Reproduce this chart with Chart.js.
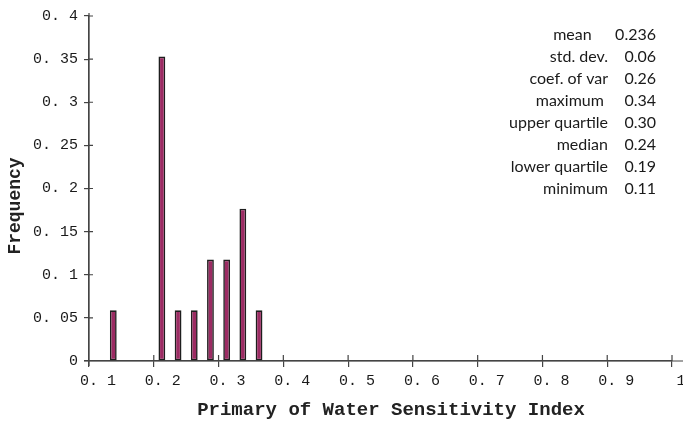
<!DOCTYPE html>
<html>
<head>
<meta charset="utf-8">
<script src="https://cdn.jsdelivr.net/npm/chart.js@4.4.1/dist/chart.umd.min.js"></script>
<style>
  html, body { margin: 0; padding: 0; background: #fff; }
  #wrap { width: 683px; height: 426px; position: relative; }
</style>
</head>
<body>
<div id="wrap"><canvas id="myChart" width="683" height="426"></canvas></div>
<script>
// histogram bins (centre of each 0.025 wide bin) and relative frequency
const binCenters = [0.1375, 0.2125, 0.2375, 0.2625, 0.2875, 0.3125, 0.3375, 0.3625];
const frequencies = [0.0588, 0.3529, 0.0588, 0.0588, 0.1176, 0.1176, 0.1765, 0.0588];

const xTicks = [0.1, 0.2, 0.3, 0.4, 0.5, 0.6, 0.7, 0.8, 0.9, 1];
const xTickLabels = ['0. 1', '0. 2', '0. 3', '0. 4', '0. 5', '0. 6', '0. 7', '0. 8', '0. 9', '1'];
const yTicks = [0, 0.05, 0.1, 0.15, 0.2, 0.25, 0.3, 0.35, 0.4];
const yTickLabels = ['0', '0. 05', '0. 1', '0. 15', '0. 2', '0. 25', '0. 3', '0. 35', '0. 4'];

const xTitle = 'Primary of Water Sensitivity Index';
const yTitle = 'Frequency';

// summary box in the top right (trailing spaces as in the original layout)
const statNames = ['mean    ', 'std. dev.', 'coef. of var', 'maximum ', 'upper quartile', 'median', 'lower quartile', 'minimum'];
const statValues = ['0.236', '0.06', '0.26', '0.34', '0.30', '0.24', '0.19', '0.11'];

const monoFont = "'Liberation Mono', 'DejaVu Sans Mono', monospace";
const axisColor = '#444';

function labelFor(value, ticks, labels) {
    // find the label that belongs to this tick value
    const i = ticks.findIndex(t => Math.abs(t - value) < 1e-6);
    return i >= 0 ? labels[i] : '';
}

// ticks in the original cross the axis, and the axes run a little past the plot
const axisExtras = {
    id: 'axisExtras',
    afterDraw(chart) {
        const ctx = chart.ctx;
        const xs = chart.scales.x, ys = chart.scales.y;
        const x0 = xs.getPixelForValue(0.1);
        const y0 = ys.getPixelForValue(0);
        ctx.save();
        ctx.strokeStyle = axisColor;
        ctx.lineWidth = 1.2;
        ctx.beginPath();
        // x axis stretch
        ctx.moveTo(x0 - 5, y0); ctx.lineTo(chart.width, y0);
        // y axis stretch
        ctx.moveTo(x0, y0 + 5); ctx.lineTo(x0, ys.getPixelForValue(0.4) - 3);
        for (let t of xTicks) {
            const px = xs.getPixelForValue(t);
            ctx.moveTo(px, y0); ctx.lineTo(px, y0 - 6);
        }
        for (let t of yTicks) {
            const py = ys.getPixelForValue(t);
            ctx.moveTo(x0, py); ctx.lineTo(x0 + 4, py);
        }
        ctx.stroke();

        // axis titles
        ctx.fillStyle = '#222';
        ctx.textAlign = 'center';
        ctx.textBaseline = 'middle';
        ctx.font = 'bold 19px ' + monoFont;
        ctx.fillText(xTitle, 391, 410);
        ctx.save();
        ctx.translate(15, 206);
        ctx.rotate(-Math.PI / 2);
        ctx.font = 'bold 18px ' + monoFont;
        ctx.fillText(yTitle, 0, 0);
        ctx.restore();

        // stats text
        ctx.font = "16px Lato, 'Open Sans', sans-serif";
        ctx.fillStyle = '#1a1a1a';
        ctx.textBaseline = 'middle';
        for (let i = 0; i < statNames.length; i++) {
            const y = 35 + i * 22;
            ctx.textAlign = 'right';
            ctx.fillText(statNames[i], 608, y);
            ctx.fillText(statValues[i], 656, y);
        }
        ctx.restore();
    }
};

const points = binCenters.map((c, i) => ({x: c, y: frequencies[i]}));

const config = {
    type: 'bar',
    data: {
        datasets: [{
            data: points,
            backgroundColor: '#9c2b63',
            borderColor: '#1e1e1e',
            borderWidth: 1.6,
            borderSkipped: false,
            barPercentage: 0.42,
            categoryPercentage: 1.0
        }]
    },
    options: {
        responsive: false,
        animation: false,
        layout: {
            padding: {top: 16, right: 11, left: 0, bottom: 0}
        },
        plugins: {
            legend: {display: false},
            tooltip: {enabled: false}
        },
        scales: {
            x: {
                type: 'linear',
                min: 0.1,
                max: 1,
                offset: false,
                afterBuildTicks: scale => { scale.ticks = xTicks.map(v => ({value: v})); },
                afterFit: scale => { scale.height = 65; },
                border: {display: true, color: axisColor, width: 1.2},
                grid: {drawOnChartArea: false, offset: false, color: axisColor, lineWidth: 1.2, tickLength: 6},
                ticks: {
                    color: '#1a1a1a',
                    font: {family: monoFont, size: 15},
                    padding: 5,
                    labelOffset: 9,
                    maxRotation: 0,
                    autoSkip: false,
                    callback: v => labelFor(v, xTicks, xTickLabels)
                }
            },
            y: {
                min: 0,
                max: 0.4,
                afterBuildTicks: scale => { scale.ticks = yTicks.map(v => ({value: v})); },
                afterFit: scale => { scale.width = 89; },
                border: {display: true, color: axisColor, width: 1.2},
                grid: {drawOnChartArea: false, color: axisColor, lineWidth: 1.2, tickLength: 5},
                ticks: {
                    color: '#1a1a1a',
                    font: {family: monoFont, size: 15},
                    padding: 6,
                    autoSkip: false,
                    callback: v => labelFor(v, yTicks, yTickLabels)
                }
            }
        }
    },
    plugins: [axisExtras]
};

const ctx = document.getElementById('myChart').getContext('2d');
new Chart(ctx, config);
</script>
</body>
</html>
